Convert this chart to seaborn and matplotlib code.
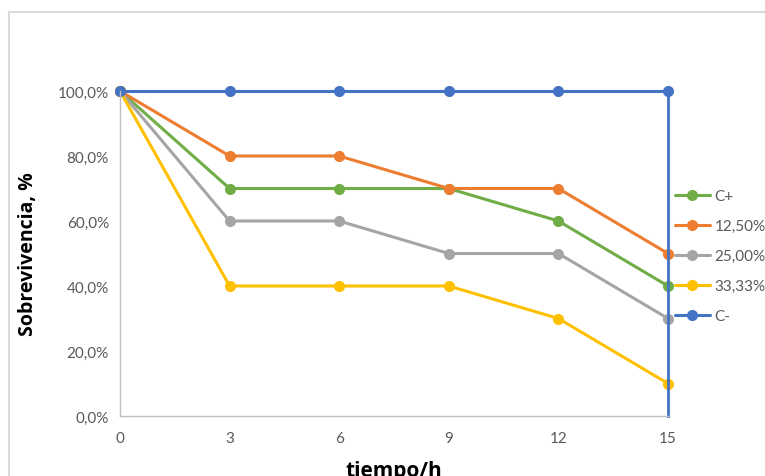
#!/usr/bin/env python3
"""Survival curves (Sobrevivencia vs tiempo) recreated with seaborn"""

import pandas as pd
import matplotlib.pyplot as plt
import seaborn as sns
from matplotlib.lines import Line2D
from matplotlib.ticker import FuncFormatter

# Data
tiempo = [0, 3, 6, 9, 12, 15]
series_names = ['C+', '12,50%', '25,00%', '33,33%', 'C-']
c_pos = [100, 70, 70, 70, 60, 40]
conc_12_5 = [100, 80, 80, 70, 70, 50]
conc_25 = [100, 60, 60, 50, 50, 30]
conc_33 = [100, 40, 40, 40, 30, 10]
c_neg = [100, 100, 100, 100, 100, 100]

colors = ['#70AD47', '#ED7D31', '#A5A5A5', '#FFC000', '#4472C4']

sns.set_style("white")
plt.rcParams['font.family'] = ['Lato', 'DejaVu Sans']

rows = []
for name, vals in zip(series_names, [c_pos, conc_12_5, conc_25, conc_33, c_neg]):
    for t, v in zip(tiempo, vals):
        rows.append({'tiempo': t, 'sobrevivencia': v, 'serie': name})
df = pd.DataFrame(rows)

fig = plt.figure(figsize=(7.65, 4.77), dpi=100)
ax = fig.add_axes([120 / 765, 1 - 417 / 477, 548 / 765, 325 / 477])

sns.lineplot(data=df, x='tiempo', y='sobrevivencia', hue='serie',
             hue_order=series_names, palette=colors, marker='o',
             markersize=8, markeredgewidth=0, linewidth=2.2, ax=ax,
             clip_on=False, sort=False)

ax.set_xlim(0, 15)
ax.set_ylim(0, 100)
ax.set_xticks(tiempo)
ax.set_yticks([0, 20, 40, 60, 80, 100])
ax.yaxis.set_major_formatter(FuncFormatter(lambda v, p: f'{v:.1f}%'.replace('.', ',')))

tick_color = '#595959'
ax.tick_params(axis='both', colors='#BFBFBF', labelcolor=tick_color,
               labelsize=11, length=5, width=1, direction='out')
ax.tick_params(axis='x', pad=6)
ax.tick_params(axis='y', pad=3)

for side in ['left', 'bottom']:
    ax.spines[side].set_color('#BFBFBF')
    ax.spines[side].set_linewidth(1)
ax.spines['top'].set_visible(False)
ax.spines['right'].set_color('#4472C4')
ax.spines['right'].set_linewidth(2)

ax.set_xlabel('tiempo/h', fontsize=15, fontweight='bold', color='black',
              family=['Open Sans', 'DejaVu Sans'])
ax.set_ylabel('Sobrevivencia, %', fontsize=14, fontweight='bold', color='black',
              family=['Open Sans', 'DejaVu Sans'])
ax.xaxis.set_label_coords(0.5, -0.135)
ax.yaxis.set_label_coords(-0.149, 0.5)

leg = ax.legend(loc='center left', bbox_to_anchor=(667 / 765, 1 - 257 / 477),
                bbox_transform=fig.transFigure, frameon=False, fontsize=11,
                labelspacing=1.05, handlelength=2.3, handletextpad=0.3,
                borderpad=0)
for text in leg.get_texts():
    text.set_color(tick_color)

# chart frame (Excel-style border)
fig.add_artist(Line2D([9 / 765, 9 / 765], [0, 1 - 13 / 477],
                      transform=fig.transFigure, color='#D9D9D9', lw=1.5))
fig.add_artist(Line2D([9 / 765, 1], [1 - 13 / 477, 1 - 13 / 477],
                      transform=fig.transFigure, color='#D9D9D9', lw=1.5))

fig.savefig('out.png', dpi=100)
